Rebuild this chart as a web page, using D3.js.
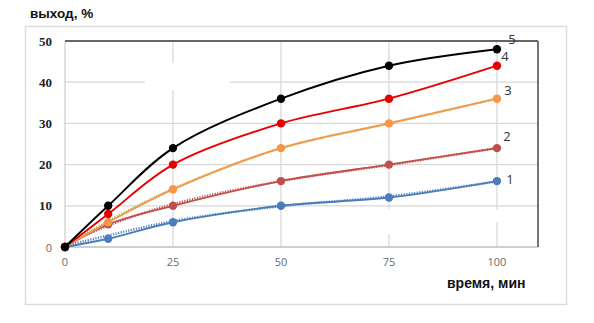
<!DOCTYPE html>
<html>
<head>
<meta charset="utf-8">
<script src="https://cdn.jsdelivr.net/npm/d3@7"></script>
<style>
  body { margin: 0; background: #fff; }
  svg { display: block; }
</style>
</head>
<body>
<div id="chart"></div>
<script>
// Dane
const times = [0, 10, 25, 50, 75, 100];
const series1 = [0, 2, 6, 10, 12, 16];
const series2 = [0, 5.5, 10, 16, 20, 24];
const series3 = [0, 6, 14, 24, 30, 36];
const series4 = [0, 8, 20, 30, 36, 44];
const series5 = [0, 10, 24, 36, 44, 48];
// linie trendu (kropkowane)
const trend1 = [0.3, 2.8, 6.3, 9.9, 12.3, 15.9];
const trend2 = [0.5, 5.2, 10.4, 16, 19.9, 24];
const trend3 = [0.2, 6.3, 14.1, 24, 30, 36];
const seriesNames = ["1", "2", "3", "4", "5"];
const xTicks = [0, 25, 50, 75, 100];
const yTicks = [0, 10, 20, 30, 40, 50];

const W = 594, H = 323;
const svg = d3.select("#chart").append("svg")
  .attr("width", W).attr("height", H);

const x = d3.scaleLinear().domain([0, 109.5]).range([65, 538]);
const y = d3.scaleLinear().domain([0, 50]).range([247, 41]);

// Ramka zewnętrzna
svg.append("rect")
  .attr("x", 25.5).attr("y", 26.5)
  .attr("width", 541).attr("height", 278)
  .attr("fill", "none").attr("stroke", "#dedede").attr("stroke-width", 1.5);

// Siatka
svg.append("g").selectAll("line.gx")
  .data(xTicks.slice(1))
  .join("line")
  .attr("x1", d => x(d)).attr("x2", d => x(d))
  .attr("y1", y(50)).attr("y2", y(0))
  .attr("stroke", "#d9d9d9").attr("stroke-width", 1.3);

svg.append("g").selectAll("line.gy")
  .data(yTicks.slice(1, -1))
  .join("line")
  .attr("x1", x(0)).attr("x2", x(109.5))
  .attr("y1", d => y(d)).attr("y2", d => y(d))
  .attr("stroke", "#d9d9d9").attr("stroke-width", 1.3);

// Białe plamy (ślady po usuniętym tekście)
[[145, 63, 85, 27], [230, 74, 40, 5], [378, 209, 20, 25], [488, 210, 18, 12]].forEach(r => {
  svg.append("rect").attr("x", r[0]).attr("y", r[1])
    .attr("width", r[2]).attr("height", r[3]).attr("fill", "#fff");
});

// Osie
svg.append("line")
  .attr("x1", x(0)).attr("x2", x(0)).attr("y1", y(50)).attr("y2", y(0))
  .attr("stroke", "#cfcfcf").attr("stroke-width", 1.3);
svg.append("line")
  .attr("x1", x(0)).attr("x2", x(109.5)).attr("y1", y(0)).attr("y2", y(0))
  .attr("stroke", "#bfbfbf").attr("stroke-width", 1.5);
svg.append("line")
  .attr("x1", x(0)).attr("x2", x(109.5)).attr("y1", y(50)).attr("y2", y(50))
  .attr("stroke", "#666").attr("stroke-width", 1.8);
svg.append("line")
  .attr("x1", x(109.5)).attr("x2", x(109.5)).attr("y1", y(50)).attr("y2", y(0))
  .attr("stroke", "#666").attr("stroke-width", 1.8);

// Etykiety osi X
svg.append("g").selectAll("text")
  .data(xTicks)
  .join("text")
  .attr("x", d => x(d)).attr("y", y(0) + 19)
  .attr("text-anchor", "middle")
  .attr("font-family", "Open Sans, sans-serif")
  .attr("font-size", 11)
  .attr("fill", "#6b6b6b")
  .text(d => d);

// Etykiety osi Y
svg.append("g").selectAll("text")
  .data(yTicks)
  .join("text")
  .attr("x", 52).attr("y", d => y(d) + 4.5)
  .attr("text-anchor", "end")
  .attr("font-family", d => d === 0 ? "Open Sans, sans-serif" : "'Liberation Serif', 'DejaVu Serif', serif")
  .attr("font-weight", d => d === 0 ? "normal" : "bold")
  .attr("font-size", d => d === 0 ? 11 : 13)
  .attr("fill", d => d === 0 ? "#6b6b6b" : "#222")
  .text(d => d);

// Tytuły osi
svg.append("text")
  .attr("x", 30).attr("y", 18)
  .attr("font-family", "Liberation Sans, Arial, sans-serif")
  .attr("font-weight", "bold").attr("font-size", 13.5)
  .attr("fill", "#111")
  .text("выход, %");

svg.append("text")
  .attr("x", 447).attr("y", 288)
  .attr("font-family", "Liberation Sans, Arial, sans-serif")
  .attr("font-weight", "bold").attr("font-size", 14)
  .attr("fill", "#111")
  .text("время, мин");

const line = d3.line()
  .x(d => x(d[0]))
  .y(d => y(d[1]))
  .curve(d3.curveCatmullRom.alpha(0.5));

const zipT = vals => times.map((t, i) => [t, vals[i]]);

// Linie trendu
const trends = [
  { vals: trend1, color: "#4f81bd" },
  { vals: trend2, color: "#c0504d" },
  { vals: trend3, color: "#9bbb59" }
];
trends.forEach(t => {
  svg.append("path")
    .datum(zipT(t.vals))
    .attr("fill", "none")
    .attr("stroke", t.color)
    .attr("stroke-width", 2.4)
    .attr("stroke-dasharray", "1.2,1.4")
    .attr("d", line);
});

// Serie danych
const series = [
  { vals: series1, color: "#4a7ebb", label: [13, 3] },
  { vals: series2, color: "#c0504d", label: [10, -7] },
  { vals: series3, color: "#f79646", label: [11, -4] },
  { vals: series4, color: "#e80000", label: [8, -5] },
  { vals: series5, color: "#000000", label: [15, -5] }
];

series.forEach((s, k) => {
  const pts = zipT(s.vals);
  svg.append("path")
    .datum(pts)
    .attr("fill", "none")
    .attr("stroke", s.color)
    .attr("stroke-width", 1.9)
    .attr("d", line);

  svg.append("g").selectAll("circle")
    .data(pts)
    .join("circle")
    .attr("cx", d => x(d[0]))
    .attr("cy", d => y(d[1]))
    .attr("r", 4.2)
    .attr("fill", s.color);

  const last = pts[pts.length - 1];
  svg.append("text")
    .attr("x", x(last[0]) + s.label[0])
    .attr("y", y(last[1]) + s.label[1])
    .attr("text-anchor", "middle")
    .attr("font-family", "Open Sans, sans-serif")
    .attr("font-size", 13)
    .attr("fill", "#333")
    .text(seriesNames[k]);
});
</script>
</body>
</html>
